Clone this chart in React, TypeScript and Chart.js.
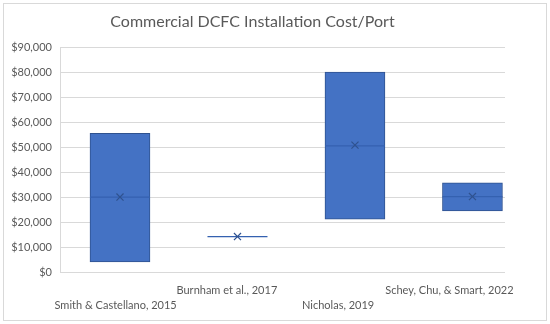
import React, { useEffect, useRef } from "react";
import { Chart, registerables } from "chart.js";

Chart.register(...registerables);

const categories = [
  ["", "Smith & Castellano, 2015"],
  ["Burnham et al., 2017"],
  ["", "Nicholas, 2019"],
  ["Schey, Chu, & Smart, 2022"],
];
const lowValues = [4000, 14200, 21200, 24500];
const highValues = [55500, 14200, 80000, 35700];
const medianValues = [30000, 14200, 50500, 30200];
const meanValues = [30000, 14200, 50800, 30200];
const yTicks = [0, 10000, 20000, 30000, 40000, 50000, 60000, 70000, 80000, 90000];

const FONT = "Lato";
const TEXT = "#595959";

export default function App() {
  const ref = useRef<HTMLCanvasElement | null>(null);
  useEffect(() => {
    document.body.style.margin = "0";
    const canvas = ref.current!;
    const borderPlugin = {
      id: "outerBorder",
      beforeDraw(chart: any) {
        const ctx = chart.ctx;
        ctx.save();
        ctx.fillStyle = "#ffffff";
        ctx.fillRect(0, 0, chart.width, chart.height);
        ctx.strokeStyle = "#D9D9D9";
        ctx.lineWidth = 1;
        ctx.strokeRect(3.5, 3.5, chart.width - 7, chart.height - 7);
        ctx.restore();
      },
    };
    const chart = new Chart(canvas, {
      type: "bar",
      data: {
        labels: categories as any,
        datasets: [
          {
            type: "bar",
            xAxisID: "x2",
            order: 3,
            data: categories.map((_, i) => ({ x: i, y: [lowValues[i], highValues[i]] })) as any,
            backgroundColor: "#4472C4",
            borderColor: "#2F528F",
            borderWidth: 1,
            borderSkipped: false,
            barThickness: 60,
          } as any,
          {
            type: "line",
            xAxisID: "x2",
            order: 1,
            data: categories.map((_, i) => ({ x: i, y: medianValues[i] })) as any,
            showLine: false,
            pointStyle: "line",
            pointRadius: 30,
            pointBorderWidth: 1.2,
            pointBorderColor: "#3461B0",
            pointBackgroundColor: "#3461B0",
          } as any,
          {
            type: "line",
            xAxisID: "x2",
            order: 0,
            data: categories.map((_, i) => ({ x: i, y: meanValues[i] })) as any,
            showLine: false,
            pointStyle: "crossRot",
            pointRadius: 5,
            pointBorderWidth: 1.2,
            pointBorderColor: "#2F528F",
          } as any,
        ],
      },
      options: {
        responsive: false,
        animation: false,
        layout: { padding: { left: 0, right: 45, top: 0, bottom: 0 } },
        plugins: {
          legend: { display: false },
          tooltip: { enabled: false },
          title: {
            display: true,
            text: "Commercial DCFC Installation Cost/Port",
            color: TEXT,
            font: { family: FONT, size: 16, weight: "normal" },
            padding: { top: 12, bottom: 16 },
          },
        },
        scales: {
          x: {
            type: "category",
            offset: true,
            grid: { display: false },
            border: { display: false },
            ticks: {
              color: TEXT,
              font: { family: FONT, size: 11, lineHeight: 1.35 },
              autoSkip: false,
              maxRotation: 0,
              minRotation: 0,
              padding: 3,
            },
            afterFit(s: any) {
              s.height = 52;
            },
          },
          x2: {
            type: "linear",
            display: false,
            offset: false,
            min: -0.5106,
            max: 3.277,
          },
          y: {
            min: 0,
            max: 90000,
            afterBuildTicks(s: any) {
              s.ticks = yTicks.map((v) => ({ value: v }));
            },
            grid: { color: "#D9D9D9", drawTicks: false },
            border: { display: true, color: "#D9D9D9" },
            ticks: {
              color: TEXT,
              font: { family: FONT, size: 11 },
              padding: 8,
              callback: (v: any) => "$" + Number(v).toLocaleString("en-US"),
            },
            afterFit(s: any) {
              s.width = 60;
            },
          },
        },
      } as any,
      plugins: [borderPlugin],
    });
    return () => chart.destroy();
  }, []);
  return <canvas ref={ref} width={550} height={324} style={{ display: "block" }} />;
}
